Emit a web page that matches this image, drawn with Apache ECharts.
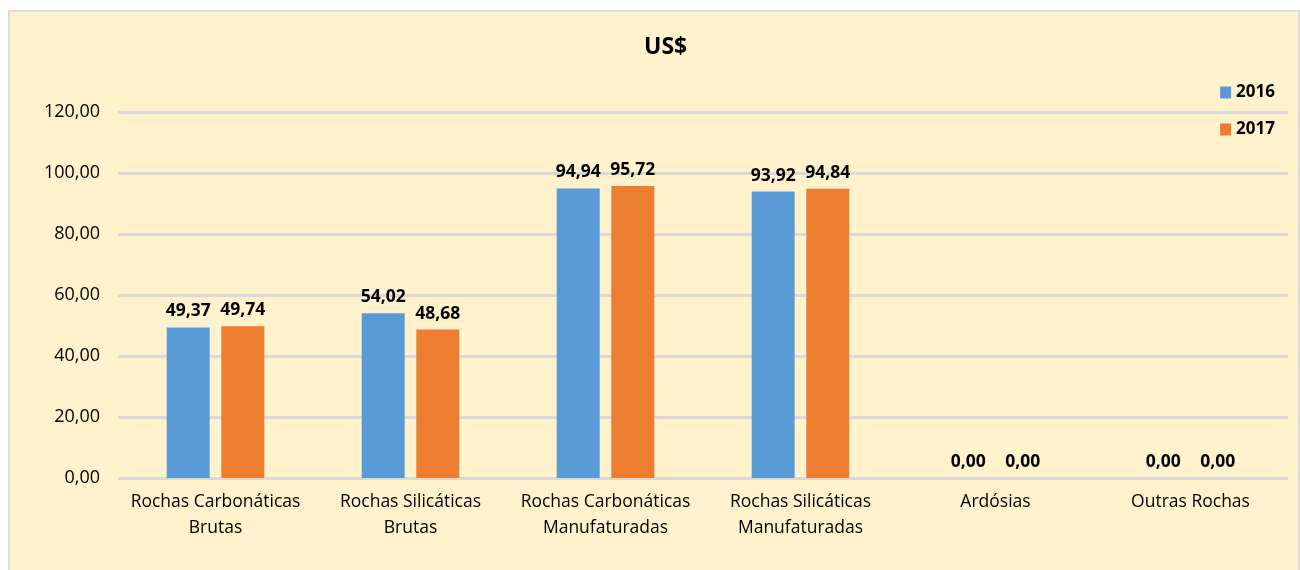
<!DOCTYPE html>
<html>
<head>
<meta charset="utf-8">
<script src="https://cdn.jsdelivr.net/npm/echarts@6/dist/echarts.min.js"></script>
<style>
	html, body { margin: 0; padding: 0; background: #fff; }
	#frame {
		position: absolute; left: 8px; top: 10px; width: 1292px; height: 562px;
		background: #FFF2CC; border: 2px solid #dcdcdc; box-sizing: border-box;
	}
	#main { position: absolute; left: 0; top: 0; width: 1300px; height: 570px; }
</style>
</head>
<body>
<div id="frame"></div>
<div id="main"></div>
<script>
const categories = [
	'Rochas Carbonáticas\nBrutas',
	'Rochas Silicáticas\nBrutas',
	'Rochas Carbonáticas\nManufaturadas',
	'Rochas Silicáticas\nManufaturadas',
	'Ardósias',
	'Outras Rochas'
];
const values2016 = [49.37, 54.02, 94.94, 93.92, 0, 0];
const values2017 = [49.74, 48.68, 95.72, 94.84, 0, 0];
const seriesNames = ['2016', '2017'];

const fmt = v => v.toFixed(2).replace('.', ',');
const font = 'Open Sans';

const chart = echarts.init(document.getElementById('main'));

const barLabel = {
	show: true,
	position: 'top',
	distance: 7,
	fontFamily: font,
	fontWeight: 'bold',
	fontSize: 17.5,
	color: '#000',
	formatter: p => fmt(p.value)
};

let option = {
	backgroundColor: 'transparent',
	animation: false,
	color: ['#5B9BD5', '#ED7D31'],
	title: {
		text: 'US$',
		left: 639,
		top: 31,
		textStyle: {fontFamily: font, fontWeight: 'bold', fontSize: 23, color: '#000'}
	},
	legend: {
		orient: 'vertical',
		right: 20,
		top: 79,
		itemWidth: 11,
		itemHeight: 12,
		itemGap: 20,
		icon: 'rect',
		textStyle: {fontFamily: font, fontWeight: 'bold', fontSize: 17, color: '#000'},
		data: seriesNames
	},
	grid: {
		left: 118,
		right: 12,
		top: 112,
		bottom: 92
	},
	xAxis: {
		type: 'category',
		data: categories,
		axisLine: {show: false},
		axisTick: {show: false},
		axisLabel: {
			interval: 0,
			fontFamily: font,
			fontSize: 17.5,
			color: '#000',
			lineHeight: 26,
			margin: 11
		}
	},
	yAxis: {
		type: 'value',
		min: 0,
		max: 120,
		interval: 20,
		axisLine: {show: false},
		axisTick: {show: false},
		axisLabel: {
			fontFamily: font,
			fontSize: 18,
			color: '#000',
			margin: 18,
			formatter: v => fmt(v)
		},
		splitLine: {lineStyle: {color: '#d9d9d9', width: 3}}
	},
	series: [
		{
			name: seriesNames[0],
			type: 'bar',
			barWidth: 43,
			barGap: '27%',
			data: values2016,
			label: barLabel
		},
		{
			name: seriesNames[1],
			type: 'bar',
			barWidth: 43,
			barGap: '27%',
			data: values2017,
			label: barLabel
		}
	]
};

option && chart.setOption(option);
</script>
</body>
</html>
